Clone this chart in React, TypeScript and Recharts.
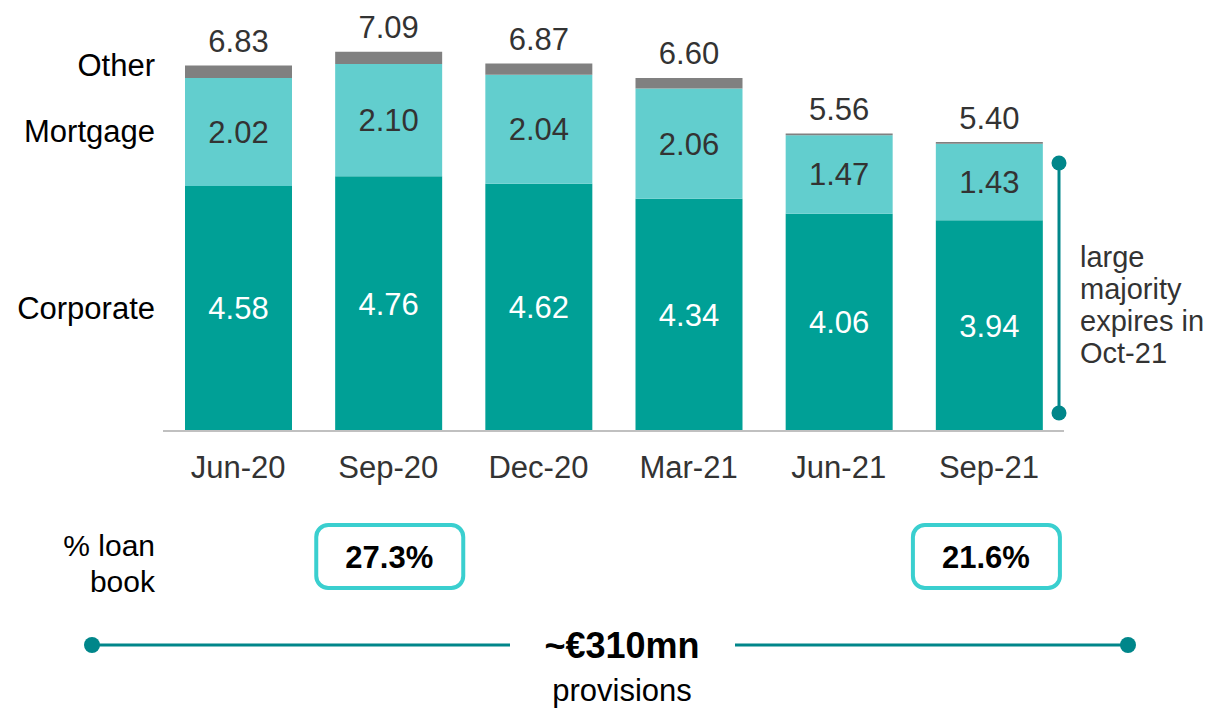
import { BarChart, Bar, XAxis, YAxis, LabelList } from "recharts";

const categories = ["Jun-20", "Sep-20", "Dec-20", "Mar-21", "Jun-21", "Sep-21"];
const corporate = [4.58, 4.76, 4.62, 4.34, 4.06, 3.94];
const mortgage = [2.02, 2.1, 2.04, 2.06, 1.47, 1.43];
const other = [0.23, 0.23, 0.21, 0.2, 0.03, 0.03];
const totals = [6.83, 7.09, 6.87, 6.6, 5.56, 5.4];
const seriesNames = ["Other", "Mortgage", "Corporate"];
const loanBook = [
  { at: "Sep-20", value: "27.3%" },
  { at: "Sep-21", value: "21.6%" },
];

const data = categories.map((name, i) => ({
  name,
  corporate: corporate[i],
  mortgage: mortgage[i],
  other: other[i],
  total: totals[i],
}));

const FONT = "'Liberation Sans', Arial, sans-serif";
const TEAL = "#00A096";
const LIGHT = "#62CECE";
const GREY = "#808080";
const DARK = "#00868A";
const BOX = "#3ACFCF";

const fmt = (v: any) => Number(v).toFixed(2);

const TotalLabel = (props: any) => {
  const { x, y, width, index } = props;
  return (
    <text
      x={x + width / 2}
      y={y - 24}
      textAnchor="middle"
      dominantBaseline="central"
      fill="#333"
      fontSize={31}
      fontFamily={FONT}
    >
      {fmt(totals[index])}
    </text>
  );
};

export default function App() {
  const band = (1064 - 163) / categories.length;
  const cx = (cat: string) => 163 + band * (categories.indexOf(cat) + 0.5);
  return (
    <div style={{ position: "absolute", left: 0, top: 0, width: 1210, height: 708, background: "#fff" }}>
      <BarChart
        width={1210}
        height={708}
        data={data}
        margin={{ top: 3, right: 146, left: 163, bottom: 247 }}
      >
        <XAxis
          dataKey="name"
          height={30}
          axisLine={{ stroke: "#c0c0c0", strokeWidth: 2 }}
          tickLine={false}
          tickSize={0}
          tickMargin={25}
          tick={{ fill: "#333", fontSize: 31, fontFamily: FONT }}
          interval={0}
        />
        <YAxis hide domain={[0, 8]} width={0} />
        <Bar dataKey="corporate" stackId="a" fill={TEAL} barSize={107} isAnimationActive={false}>
          <LabelList
            dataKey="corporate"
            position="center"
            formatter={fmt}
            fill="#fff"
            fontSize={31}
            fontFamily={FONT}
          />
        </Bar>
        <Bar dataKey="mortgage" stackId="a" fill={LIGHT} barSize={107} isAnimationActive={false}>
          <LabelList
            dataKey="mortgage"
            position="center"
            formatter={fmt}
            fill="#333"
            fontSize={31}
            fontFamily={FONT}
          />
        </Bar>
        <Bar dataKey="other" stackId="a" fill={GREY} barSize={107} isAnimationActive={false}>
          <LabelList dataKey="total" content={TotalLabel} />
        </Bar>
      </BarChart>
      <svg
        width={1210}
        height={708}
        style={{ position: "absolute", left: 0, top: 0, pointerEvents: "none" }}
        fontFamily={FONT}
      >
        {/* series names on the left */}
        <text x={155} y={65} textAnchor="end" dominantBaseline="central" fontSize={31} fill="#000">
          {seriesNames[0]}
        </text>
        <text x={155} y={131} textAnchor="end" dominantBaseline="central" fontSize={31} fill="#000">
          {seriesNames[1]}
        </text>
        <text x={155} y={308} textAnchor="end" dominantBaseline="central" fontSize={31} fill="#000">
          {seriesNames[2]}
        </text>

        {/* bracket on the right */}
        <line x1={1059} y1={163} x2={1059} y2={413} stroke={DARK} strokeWidth={3} />
        <circle cx={1059} cy={163} r={7.5} fill={DARK} />
        <circle cx={1059} cy={413} r={7.5} fill={DARK} />
        <text fontSize={29} fill="#333">
          <tspan x={1080} y={267}>large</tspan>
          <tspan x={1080} y={299}>majority</tspan>
          <tspan x={1080} y={331}>expires in</tspan>
          <tspan x={1080} y={363}>Oct-21</tspan>
        </text>

        {/* % loan book */}
        <text fontSize={30} fill="#000" textAnchor="end">
          <tspan x={155} y={556}>% loan</tspan>
          <tspan x={155} y={592}>book</tspan>
        </text>
        {loanBook.map((b, i) => (
          <g key={b.at}>
            <rect
              x={cx(b.at) - 73 + (i ? -3 : 1)}
              y={525}
              width={147}
              height={63}
              rx={12}
              fill="#fff"
              stroke={BOX}
              strokeWidth={4}
            />
            <text
              x={cx(b.at) + (i ? -3 : 1)}
              y={557}
              textAnchor="middle"
              dominantBaseline="central"
              fontSize={31}
              fontWeight="bold"
              fill="#000"
            >
              {b.value}
            </text>
          </g>
        ))}

        {/* provisions line */}
        <line x1={92} y1={645} x2={510} y2={645} stroke={DARK} strokeWidth={3} />
        <line x1={735} y1={645} x2={1128} y2={645} stroke={DARK} strokeWidth={3} />
        <circle cx={92} cy={645} r={8} fill={DARK} />
        <circle cx={1128} cy={645} r={8} fill={DARK} />
        <text x={622} y={645} textAnchor="middle" dominantBaseline="central" fontSize={36} fontWeight="bold" fill="#000">
          ~€310mn
        </text>
        <text x={622} y={690} textAnchor="middle" dominantBaseline="central" fontSize={31} fill="#000">
          provisions
        </text>
      </svg>
    </div>
  );
}
